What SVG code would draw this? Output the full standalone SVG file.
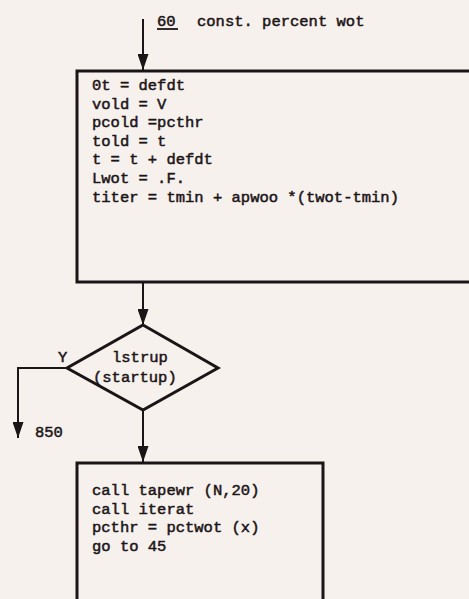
<svg xmlns="http://www.w3.org/2000/svg" width="469" height="599" viewBox="0 0 469 599">
  <style>
    .bg { fill: #f7f1ee; }
    .shape { fill: none; stroke: #1c1517; stroke-width: 3; stroke-linejoin: miter; }
    .wire { fill: none; stroke: #1c1517; stroke-width: 2; }
    .txt { font-family: "Liberation Mono", "DejaVu Sans Mono", monospace; font-size: 15.5px; fill: #1c1517; stroke: #1c1517; stroke-width: 0.5; }
  </style>
  <defs>
    <marker id="head" viewBox="0 0 16 11" refX="16" refY="5.5" markerWidth="16" markerHeight="11" markerUnits="userSpaceOnUse" orient="auto">
      <path d="M0,0 L16,5.5 L0,11 Z" fill="#1c1517"/>
    </marker>
  </defs>

  <rect class="bg" x="0" y="0" width="469" height="599"/>

  <!-- entry label -->
  <g id="entry">
    <text class="txt" x="157" y="26">60</text>
    <line x1="157" y1="29" x2="178" y2="29" stroke="#1c1517" stroke-width="1.8"/>
    <text class="txt" x="197" y="26">const. percent wot</text>
  </g>

  <!-- initialisation block -->
  <g id="init">
    <path class="shape" d="M471,71 L77,71 L77,282 L471,282"/>
    <text class="txt" x="92" y="90">0t = defdt</text>
    <text class="txt" x="92" y="108.6">vold = V</text>
    <text class="txt" x="92" y="127.2">pcold =pcthr</text>
    <text class="txt" x="92" y="145.8">told = t</text>
    <text class="txt" x="92" y="164.4">t = t + defdt</text>
    <text class="txt" x="92" y="183">Lwot = .F.</text>
    <text class="txt" x="92" y="201.6">titer = tmin + apwoo *(twot-tmin)</text>
  </g>

  <!-- startup decision -->
  <g id="startup">
    <path class="shape" d="M143,325 L218,368 L143,410 L67,368 Z"/>
    <text class="txt" x="112" y="362">lstrup</text>
    <text class="txt" x="93" y="382">(startup)</text>
  </g>

  <!-- call block -->
  <g id="calls">
    <path class="shape" d="M77,601 L77,463 L323,463 L323,601"/>
    <text class="txt" x="92" y="495">call tapewr (N,20)</text>
    <text class="txt" x="92" y="513.5">call iterat</text>
    <text class="txt" x="92" y="532">pcthr = pctwot (x)</text>
    <text class="txt" x="92" y="550.5">go to 45</text>
  </g>

  <!-- exit label -->
  <g id="exit850">
    <text class="txt" x="58" y="362">Y</text>
    <text class="txt" x="35" y="437">850</text>
  </g>

  <!-- connectors -->
  <g id="connectors">
    <line class="wire" x1="143" y1="19" x2="143" y2="70" marker-end="url(#head)"/>
    <line class="wire" x1="143" y1="283" x2="143" y2="325" marker-end="url(#head)"/>
    <polyline class="wire" points="67,368 18,368 18,438" marker-end="url(#head)"/>
    <line class="wire" x1="143" y1="411" x2="143" y2="462" marker-end="url(#head)"/>
  </g>
</svg>
